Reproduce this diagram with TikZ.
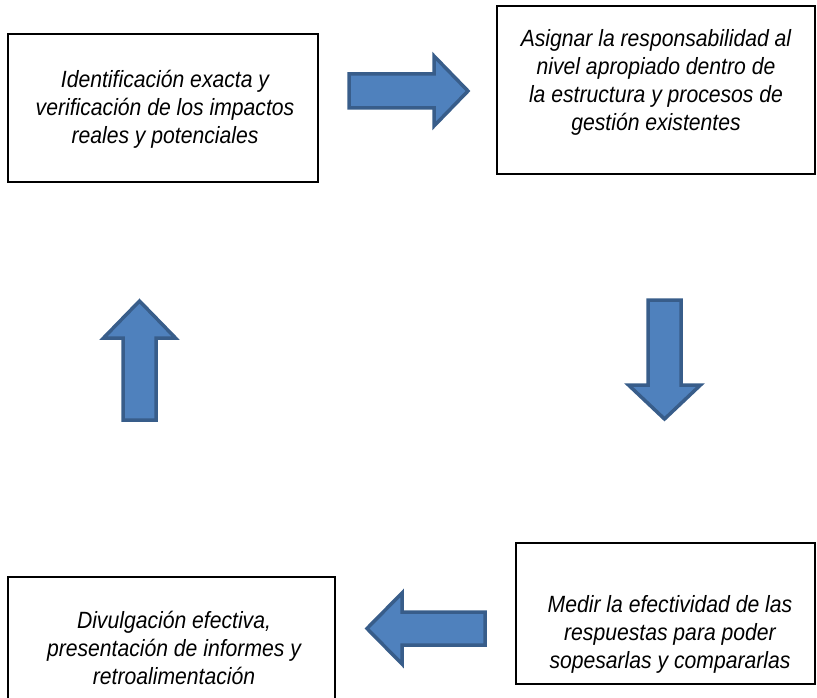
\documentclass[tikz,border=0pt]{standalone}
\usepackage{fontspec}
\setmainfont[FakeStretch=0.9]{Liberation Sans}
\definecolor{arrowfill}{HTML}{4F81BD}
\definecolor{arrowline}{HTML}{385D8A}
\begin{document}
\begin{tikzpicture}[x=1pt,y=-1pt,
  box/.style={draw=black, line width=1.2pt, inner sep=0pt},
  txt/.style={font=\itshape\fontsize{23.5}{28}\selectfont, align=center, inner sep=0pt},
  blockarrow/.style={fill=arrowfill, draw=arrowline, line width=3.5pt, line join=miter}]
\useasboundingbox (0,0) rectangle (817,698);
% boxes
\node[box, minimum width=310pt, minimum height=148pt] (b1) at (163,108) {};
\node[box, minimum width=318pt, minimum height=168pt] (b2) at (656,90) {};
\node[box, minimum width=327pt, minimum height=143pt] (b3) at (171.5,648.5) {};
\node[box, minimum width=299pt, minimum height=141pt] (b4) at (665.5,613.5) {};
% texts
\node[txt] (t1) at (165,109) {Identificación exacta y\\verificación de los impactos\\reales y potenciales};
\node[txt] (t2) at (656,82.5) {Asignar la responsabilidad al\\nivel apropiado dentro de\\la estructura y procesos de\\gestión existentes};
\node[txt] (t3) at (174,647.5) {Divulgación efectiva,\\presentación de informes y\\retroalimentación};
\node[txt] (t4) at (670,634) {Medir la efectividad de las\\respuestas para poder\\sopesarlas y compararlas};
% block arrows
\draw[blockarrow] (349,74) -- (434,74) -- (434,56) -- (468,91) -- (434,126) -- (434,108) -- (349,108) -- cycle;
\draw[blockarrow] (648,300) -- (681,300) -- (681,385) -- (700.5,385) -- (664.5,419) -- (628.5,385) -- (648,385) -- cycle;
\draw[blockarrow] (485,612) -- (402,612) -- (402,593) -- (367,628.5) -- (402,664) -- (402,645) -- (485,645) -- cycle;
\draw[blockarrow] (123,420) -- (123,338) -- (103.5,338) -- (139.5,301) -- (175.5,338) -- (156,338) -- (156,420) -- cycle;
\end{tikzpicture}
\end{document}
